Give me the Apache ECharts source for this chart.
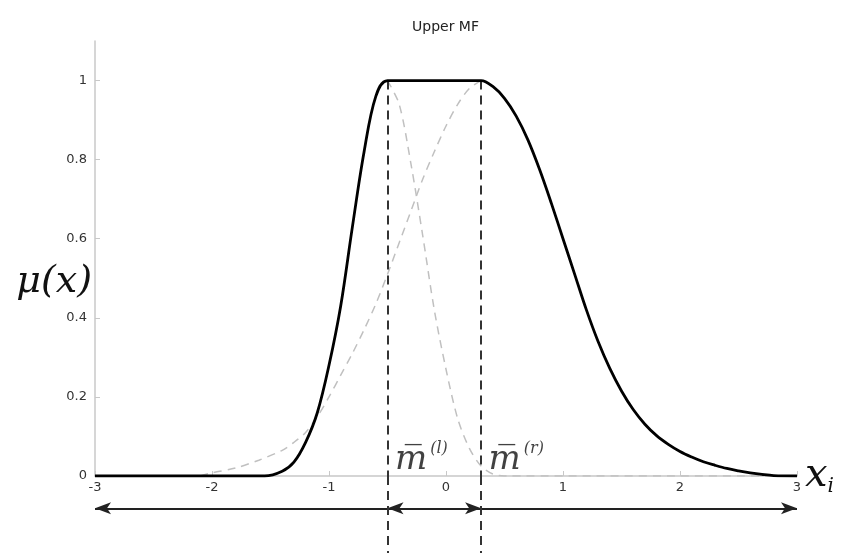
<!DOCTYPE html>
<html>
<head>
<meta charset="utf-8">
<script src="https://cdn.jsdelivr.net/npm/echarts@6/dist/echarts.min.js"></script>
<style>
  html, body { margin: 0; padding: 0; background: #fff; }
  #main { width: 842px; height: 553px; }
</style>
</head>
<body>
<div id="main"></div>
<script>
// upper MF (solid black)
var upperX = [-3, -1.55, -1.4, -1.3, -1.2, -1.1, -1.0, -0.9, -0.8, -0.7, -0.6, -0.5, 0.3, 0.4, 0.5, 0.6, 0.7, 0.8, 0.9, 1.0, 1.1, 1.2, 1.3, 1.4, 1.5, 1.6, 1.7, 1.8, 1.9, 2.0, 2.1, 2.2, 2.3, 2.4, 2.5, 2.6, 2.7, 2.8, 3];
var upperY = [0, 0, 0.012, 0.035, 0.085, 0.16, 0.28, 0.43, 0.63, 0.82, 0.96, 1, 1, 0.985, 0.955, 0.91, 0.85, 0.775, 0.69, 0.6, 0.51, 0.42, 0.34, 0.272, 0.215, 0.168, 0.131, 0.102, 0.08, 0.062, 0.048, 0.036, 0.027, 0.019, 0.013, 0.008, 0.004, 0.001, 0];

// gauss centred on m(l), right half (grey dashed)
var leftMfX = [-0.5, -0.4, -0.3, -0.2, -0.1, 0, 0.1, 0.2, 0.3, 0.4, 0.5, 3];
var leftMfY = [1, 0.94, 0.79, 0.61, 0.42, 0.27, 0.145, 0.07, 0.025, 0.005, 0, 0];

// gauss centred on m(r), left half (grey dashed)
var rightMfX = [-2.1, -2.0, -1.8, -1.6, -1.4, -1.3, -1.2, -1.1, -1.0, -0.9, -0.8, -0.7, -0.6, -0.5, -0.4, -0.3, -0.2, -0.1, 0, 0.1, 0.2, 0.3];
var rightMfY = [0, 0.008, 0.02, 0.04, 0.065, 0.085, 0.11, 0.15, 0.2, 0.255, 0.31, 0.37, 0.435, 0.51, 0.59, 0.67, 0.75, 0.82, 0.885, 0.94, 0.98, 1];

var mLeft = -0.5;
var mRight = 0.3;
var mNames = ['l', 'r'];
var xTicks = [-3, -2, -1, 0, 1, 2, 3];
var yTicks = [0, 0.2, 0.4, 0.6, 0.8, 1];

function pairs(xs, ys) {
    var out = [];
    for (var i = 0; i < xs.length; i++) {
        out.push([xs[i], ys[i]]);
    }
    return out;
}

var labelFont = 'DejaVu Sans';
var axisGray = '#c8c8c8';
var arrowY = 0.58;   // height of the arrow row inside the lower grid
var mDash = { color: '#333', width: 2, type: [9, 6] };

var option = {
    animation: false,
    backgroundColor: '#fff',
    title: {
        text: 'Upper MF',
        left: 407,
        top: 15,
        textStyle: { fontFamily: labelFont, fontSize: 14, fontWeight: 'normal', color: '#222' }
    },
    grid: [
        { left: 95, right: 45, top: 41, bottom: 77, outerBoundsMode: 'none', containLabel: false },
        { left: 95, right: 45, top: 476, bottom: 0, outerBoundsMode: 'none', containLabel: false }
    ],
    xAxis: [
        {
            type: 'value', gridIndex: 0, min: -3, max: 3, interval: 1,
            axisLine: { show: true, onZero: false, lineStyle: { color: axisGray, width: 1.5 } },
            axisTick: { show: true, inside: true, length: 5, lineStyle: { color: axisGray } },
            splitLine: { show: false },
            axisLabel: {
                customValues: xTicks,
                fontFamily: labelFont, fontSize: 13, color: '#333', margin: 5
            },
            name: '{x|x}{i|i}',
            nameLocation: 'end',
            nameGap: 8,
            nameMoveOverlap: false,
            nameTextStyle: {
                rich: {
                    x: { fontFamily: 'DejaVu Serif', fontStyle: 'italic', fontSize: 40, color: '#111' },
                    i: { fontFamily: 'DejaVu Serif', fontStyle: 'italic', fontSize: 20, color: '#111', padding: [22, 0, 0, 0] }
                }
            }
        },
        {
            type: 'value', gridIndex: 1, min: -3, max: 3, show: false
        }
    ],
    yAxis: [
        {
            type: 'value', gridIndex: 0, min: 0, max: 1.1,
            axisLine: { show: true, onZero: false, lineStyle: { color: axisGray, width: 1.5 } },
            axisTick: { show: true, inside: true, length: 5, customValues: yTicks, lineStyle: { color: axisGray } },
            splitLine: { show: false },
            axisLabel: {
                customValues: yTicks,
                fontFamily: labelFont, fontSize: 13, color: '#333', margin: 8
            },
            name: 'μ(x)',
            nameLocation: 'middle',
            nameRotate: 0,
            nameGap: 3,
            nameMoveOverlap: false,
            nameTextStyle: {
                fontFamily: 'DejaVu Serif', fontStyle: 'italic', fontSize: 38, color: '#111',
                verticalAlign: 'top',
                padding: [5, 0, 0, 0]
            }
        },
        {
            type: 'value', gridIndex: 1, min: 0, max: 1, show: false
        }
    ],
    series: [
        {
            name: 'lower left',
            type: 'line',
            data: pairs(rightMfX, rightMfY),
            smooth: 0.3,
            showSymbol: false,
            lineStyle: { color: '#c0c0c0', width: 1.5, type: [8, 6] },
            z: 2
        },
        {
            name: 'lower right',
            type: 'line',
            data: pairs(leftMfX, leftMfY),
            smooth: 0.3,
            showSymbol: false,
            lineStyle: { color: '#c0c0c0', width: 1.5, type: [8, 6] },
            z: 2
        },
        {
            name: 'm labels',
            type: 'scatter',
            data: [[mLeft, 0.02, mNames[0]], [mRight, 0.02, mNames[1]]],
            symbolSize: 1,
            itemStyle: { color: 'rgba(0,0,0,0)' },
            silent: true,
            label: {
                show: true,
                position: 'right',
                distance: 0,
                offset: [7, -8],
                formatter: function (p) {
                    return '{m|m\u0305}{s|(' + p.data[2] + ')}';
                },
                rich: {
                    m: { fontFamily: 'DejaVu Serif', fontStyle: 'italic', fontSize: 34, color: '#111' },
                    s: { fontFamily: 'DejaVu Serif', fontStyle: 'italic', fontSize: 16, color: '#111', padding: [0, 0, 22, 3] }
                }
            },
            z: 3
        },
        {
            name: 'm lines',
            type: 'line',
            data: [],
            silent: true,
            markLine: {
                silent: true,
                symbol: 'none',
                lineStyle: mDash,
                label: { show: false },
                data: [
                    [{ coord: [mLeft, 1] }, { coord: [mLeft, 0] }],
                    [{ coord: [mRight, 1] }, { coord: [mRight, 0] }]
                ]
            },
            z: 3
        },
        {
            name: 'upper MF',
            type: 'line',
            data: pairs(upperX, upperY),
            smooth: 0.35,
            showSymbol: false,
            lineStyle: { color: '#000', width: 2.8 },
            z: 5
        },
        {
            name: 'arrows',
            type: 'line',
            xAxisIndex: 1,
            yAxisIndex: 1,
            data: [],
            silent: true,
            markLine: {
                silent: true,
                label: { show: false },
                lineStyle: { color: '#222', width: 2, type: 'solid' },
                symbolSize: [9, 16],
                data: [
                    [{ coord: [-3, arrowY], symbol: 'arrow' }, { coord: [mLeft, arrowY], symbol: 'none' }],
                    [{ coord: [mLeft, arrowY], symbol: 'arrow' }, { coord: [mRight, arrowY], symbol: 'arrow' }],
                    [{ coord: [mRight, arrowY], symbol: 'none' }, { coord: [3, arrowY], symbol: 'arrow' }],
                    [{ coord: [mLeft, 1], symbol: 'none', lineStyle: mDash }, { coord: [mLeft, 0], symbol: 'none' }],
                    [{ coord: [mRight, 1], symbol: 'none', lineStyle: mDash }, { coord: [mRight, 0], symbol: 'none' }]
                ]
            }
        }
    ]
};

var chart = echarts.init(document.getElementById('main'));
chart.setOption(option);
</script>
</body>
</html>
